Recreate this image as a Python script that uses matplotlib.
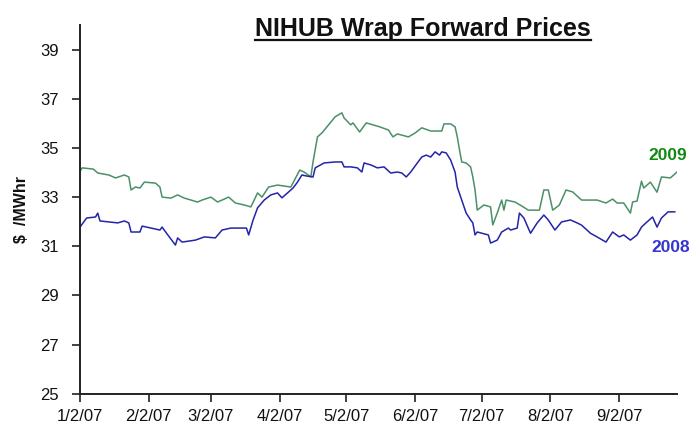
import datetime as dt
import matplotlib
matplotlib.use('Agg')
import matplotlib.pyplot as plt
from matplotlib.lines import Line2D

plt.rcParams['font.family'] = ['Liberation Sans', 'DejaVu Sans']

START = dt.date(2007, 1, 2)

# days after 1/2/07 and price ($/MWhr)
days_2009 = [0, 1, 6, 8, 13, 16, 20, 22, 23, 25, 27, 29, 34, 36, 37, 41, 44, 47, 53, 55,
             59, 62, 67, 70, 74, 77, 80, 82, 85, 89, 95, 99, 101, 104, 105, 107, 109, 112,
             115, 118, 119, 122, 123, 126, 129, 132, 135, 139, 141, 143, 148, 151, 154, 158,
             163, 164, 167, 169, 170, 171, 172, 174, 176, 177, 178, 179, 182, 185, 186, 188,
             190, 191, 192, 196, 199, 202, 207, 209, 211, 212, 213, 216, 219, 222, 226, 233,
             237, 240, 242, 245, 248, 249, 251, 253, 254, 257, 260, 262, 266, 269]
price_2009 = [34.05, 34.19, 34.14, 33.98, 33.90, 33.78, 33.90, 33.82, 33.29, 33.41, 33.37,
              33.61, 33.57, 33.41, 33.00, 32.96, 33.09, 32.96, 32.80, 32.88, 33.00, 32.80,
              33.00, 32.76, 32.68, 32.60, 33.17, 33.00, 33.41, 33.49, 33.41, 34.10, 34.02,
              33.82, 34.43, 35.45, 35.61, 35.94, 36.27, 36.43, 36.22, 35.94, 36.02, 35.65,
              36.02, 35.94, 35.86, 35.73, 35.45, 35.57, 35.45, 35.61, 35.82, 35.69, 35.69,
              35.98, 35.98, 35.86, 35.45, 34.92, 34.43, 34.39, 34.23, 33.82, 33.29, 32.47,
              32.68, 32.60, 31.87, 32.35, 32.88, 32.47, 32.88, 32.80, 32.64, 32.47, 32.47,
              33.29, 33.29, 32.88, 32.47, 32.68, 33.29, 33.21, 32.88, 32.88, 32.76, 32.92,
              32.76, 32.76, 32.35, 32.80, 32.84, 33.65, 33.37, 33.61, 33.20, 33.82, 33.78,
              34.02]

days_2008 = [0, 3, 7, 8, 9, 13, 17, 20, 22, 23, 27, 28, 32, 36, 37, 39, 43, 44, 46, 52,
             56, 61, 64, 68, 75, 76, 78, 80, 83, 86, 89, 91, 94, 96, 98, 100, 102, 105, 106,
             110, 115, 118, 119, 122, 125, 127, 128, 131, 134, 137, 140, 143, 145, 147, 149,
             152, 154, 156, 158, 160, 162, 163, 165, 167, 169, 170, 172, 174, 176, 177, 178,
             179, 184, 185, 188, 190, 193, 194, 197, 198, 200, 203, 206, 209, 211, 214, 217,
             221, 224, 226, 230, 233, 237, 240, 243, 245, 248, 251, 253, 255, 258, 260, 262,
             265, 268]
price_2008 = [31.78, 32.15, 32.19, 32.35, 32.03, 31.99, 31.95, 32.03, 31.95, 31.58, 31.58,
              31.82, 31.74, 31.66, 31.78, 31.53, 31.05, 31.34, 31.17, 31.25, 31.38, 31.34,
              31.66, 31.74, 31.74, 31.46, 32.07, 32.56, 32.88, 33.09, 33.17, 32.97, 33.21,
              33.37, 33.61, 33.90, 33.86, 33.82, 34.19, 34.39, 34.43, 34.43, 34.23, 34.23,
              34.19, 34.02, 34.39, 34.31, 34.19, 34.23, 33.98, 34.02, 33.98, 33.82, 34.02,
              34.39, 34.63, 34.71, 34.63, 34.84, 34.71, 34.84, 34.80, 34.51, 34.02, 33.41,
              32.88, 32.35, 32.07, 31.95, 31.46, 31.58, 31.46, 31.13, 31.25, 31.58, 31.74,
              31.66, 31.74, 32.35, 32.15, 31.53, 31.95, 32.27, 32.07, 31.66, 31.99, 32.07,
              31.95, 31.86, 31.53, 31.38, 31.17, 31.58, 31.38, 31.46, 31.25, 31.46, 31.78,
              31.95, 32.19, 31.78, 32.15, 32.40, 32.40]

tick_dates = [dt.date(2007, m, 2) for m in range(1, 10)]
tick_labels = ['1/2/07', '2/2/07', '3/2/07', '4/2/07', '5/2/07', '6/2/07', '7/2/07',
               '8/2/07', '9/2/07']
y_ticks = [25, 27, 29, 31, 33, 35, 37, 39]

GREEN_LINE = '#4a9068'
BLUE_LINE = '#2424a8'


def to_dates(days):
    return [START + dt.timedelta(days=d) for d in days]


fig = plt.figure(figsize=(6.95, 4.40), dpi=100)
ax = fig.add_axes([0.1151, 0.1052, 0.8590, 0.8378])

ax.plot(to_dates(days_2009), price_2009, color=GREEN_LINE, lw=1.1)
ax.plot(to_dates(days_2008), price_2008, color=BLUE_LINE, lw=1.1)

ax.set_xlim(START, START + dt.timedelta(days=269))
ax.set_ylim(25, 40)
ax.set_yticks(y_ticks)
ax.set_xticks(tick_dates)
ax.set_xticklabels(tick_labels)

for s in ['top', 'right']:
    ax.spines[s].set_visible(False)
for s in ['left', 'bottom']:
    ax.spines[s].set_linewidth(1.4)
    ax.spines[s].set_color('#222222')
ax.tick_params(axis='both', direction='out', length=6, width=1.3, color='#333333',
               labelsize=12, labelcolor='#111111')
ax.tick_params(axis='y', pad=9)
ax.tick_params(axis='x', pad=5)

ax.text(START + dt.timedelta(days=265), 34.7, '2009', color='#128a12', fontsize=12.5,
        fontweight='bold', ha='center', va='center')
ax.text(START + dt.timedelta(days=266), 30.93, '2008', color='#3535d0', fontsize=12.5,
        fontweight='bold', ha='center', va='center')

fig.text(0.031, 0.525, '$  /MWhr', rotation=90, fontsize=11.5, fontweight='bold',
         ha='center', va='center', color='#111111')

title = fig.text(0.609, 0.935, 'NIHUB Wrap Forward Prices', fontsize=18, fontweight='bold',
                 ha='center', va='center', color='#111111')

# underline the title
fig.canvas.draw()
bb = title.get_window_extent().transformed(fig.transFigure.inverted())
uy = bb.y0 + 0.002
fig.add_artist(Line2D([bb.x0, bb.x1], [uy, uy], transform=fig.transFigure,
                      color='#111111', lw=1.6))

fig.savefig('out.png', dpi=100)
